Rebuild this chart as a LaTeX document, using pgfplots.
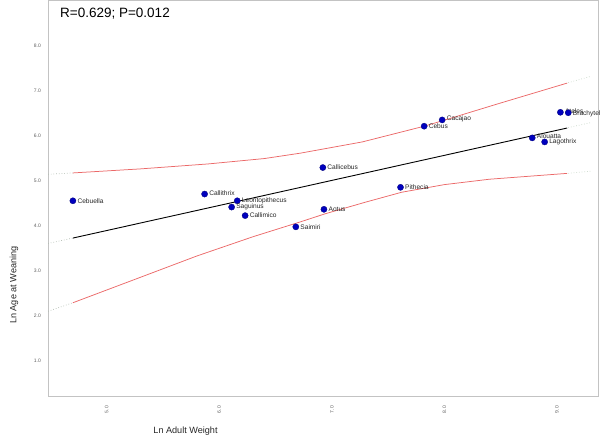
\documentclass[border=0pt]{standalone}
\usepackage{fontspec}
\setmainfont{Liberation Sans}
\usepackage{pgfplots}
\usepackage{pgfplotstable}
\pgfplotsset{compat=1.18}

\definecolor{ptblue}{RGB}{0,0,190}
\definecolor{ptedge}{RGB}{0,0,120}
\definecolor{cired}{RGB}{235,105,105}
\definecolor{framegray}{RGB}{195,195,195}
\definecolor{tickgray}{RGB}{95,95,95}
\definecolor{faint}{RGB}{200,215,200}

\pgfplotstableread{
x y dy name
4.70 4.56 0 Cebuella
5.87 4.71 0.5 Callithrix
6.16 4.56 0 Leontopithecus
6.11 4.42 0 Saguinus
6.23 4.23 0 Callimico
6.68 3.98 0 Saimiri
6.93 4.37 0.5 Aotus
6.92 5.30 0.5 Callicebus
7.61 4.86 0.5 Pithecia
7.82 6.22 0 Cebus
7.98 6.36 1.5 Cacajao
8.78 5.96 1.5 Alouatta
8.89 5.87 0 Lagothrix
9.03 6.53 1.5 Ateles
9.10 6.52 -1 Brachyteles
}\ptstab

\pgfplotstableread{
x y
4.70 5.18
5.30 5.27
5.90 5.38
6.40 5.50
6.72 5.62
7.27 5.87
7.82 6.22
7.98 6.34
8.49 6.73
9.09 7.18
}\upperci

\pgfplotstableread{
x y
4.70 2.29
5.24 2.80
5.80 3.33
6.30 3.76
6.72 4.09
6.94 4.27
7.30 4.53
7.62 4.75
8.00 4.92
8.40 5.04
9.09 5.17
}\lowerci

\begin{document}
\begin{tikzpicture}
\useasboundingbox (-48bp,-47bp) rectangle (552bp,396bp);
\begin{axis}[
  at={(0,0)}, anchor=south west,
  scale only axis, width=550bp, height=396bp,
  xmin=4.479, xmax=9.364, ymin=0.214, ymax=9.03,
  axis line style={framegray, line width=0.9bp},
  major tick length=0pt,
  xtick={5,6,7,8,9}, ytick={1,2,3,4,5,6,7,8},
  /pgf/number format/assume math mode=true,
  /pgf/number format/.cd, fixed, fixed zerofill, precision=1, /pgfplots/.cd,
  tick label style={font=\fontsize{5bp}{6bp}\selectfont, text=tickgray, inner sep=0pt},
  xticklabel style={rotate=90, anchor=east},
  xticklabel shift=10bp, yticklabel shift=7bp,
  xlabel={Ln Adult Weight}, ylabel={Ln Age at Weaning},
  label style={font=\fontsize{9.1bp}{11bp}\selectfont, text=black!85},
  xlabel style={at={(axis description cs:0.25,-0.0884)}, anchor=center},
  ylabel style={at={(axis description cs:-0.0618,0.28)}, anchor=center},
]
% faint dotted extensions
\addplot[faint!70!gray, dotted, line width=0.7bp] coordinates {(4.48,3.61) (4.70,3.73)};
\addplot[faint!70!gray, dotted, line width=0.7bp] coordinates {(4.48,5.15) (4.70,5.18)};
\addplot[faint!70!gray, dotted, line width=0.7bp] coordinates {(4.48,2.10) (4.70,2.29)};
\addplot[faint, dotted, line width=0.7bp] coordinates {(9.10,6.19) (9.30,6.30)};
\addplot[faint, dotted, line width=0.7bp] coordinates {(9.10,7.19) (9.30,7.33)};
\addplot[faint, dotted, line width=0.7bp] coordinates {(9.10,5.17) (9.30,5.22)};
% confidence band
\addplot[cired, line width=0.75bp] table[x=x,y=y] {\upperci};
\addplot[cired, line width=0.75bp] table[x=x,y=y] {\lowerci};
% fit line
\addplot[black, line width=0.9bp] coordinates {(4.70,3.73) (9.09,6.18)};
% points
\addplot[only marks, mark=*, mark size=3.1bp,
  mark options={fill=ptblue, draw=ptedge, line width=0.3bp},
  point meta=explicit symbolic,
  visualization depends on={\thisrow{dy}\as\dy},
  nodes near coords,
  every node near coord/.append style={anchor=west, inner sep=0pt, xshift=4.5bp, yshift=\dy bp,
     font=\fontsize{6.6bp}{7bp}\selectfont, text=black!85}
] table[x=x, y=y, meta=name] {\ptstab};
\node[anchor=base west, inner sep=0pt, font=\fontsize{13.5bp}{16bp}\selectfont]
  at (rel axis cs:0.0218,0.9558) {R=0.629; P=0.012};
\end{axis}
\end{tikzpicture}
\end{document}
